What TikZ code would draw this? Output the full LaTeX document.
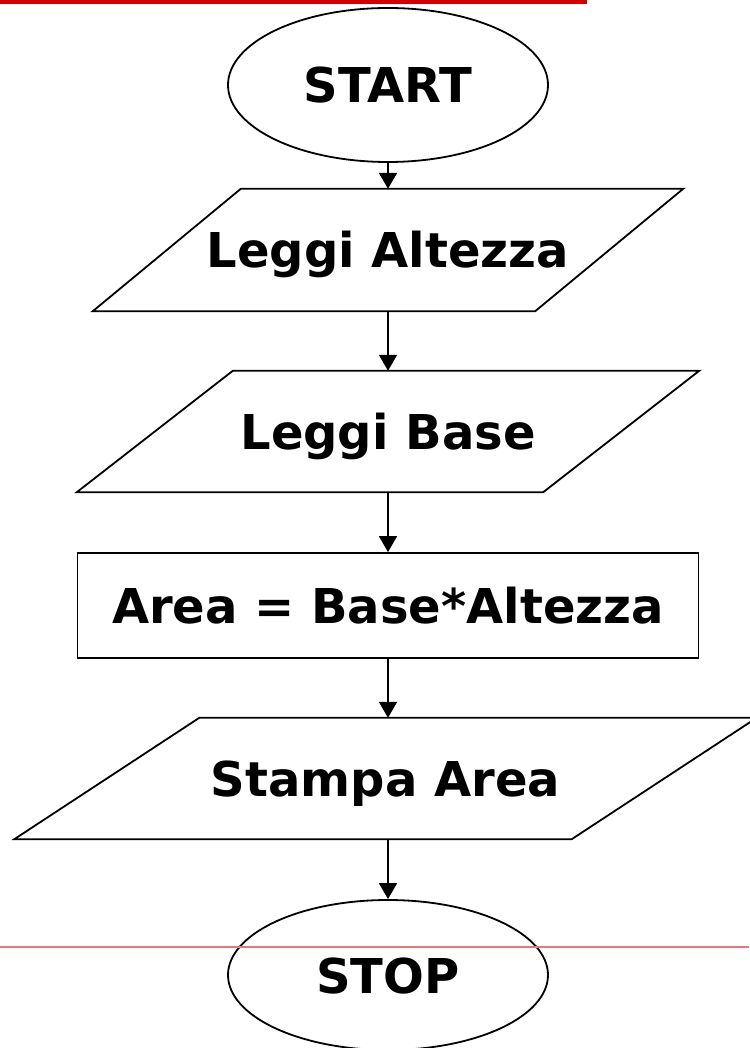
\documentclass[tikz,border=0pt]{standalone}
\usepackage{fontspec}
\setmainfont{DejaVu Sans}
\usetikzlibrary{shapes.geometric,arrows.meta}
\definecolor{slidered}{HTML}{D40000}
\definecolor{slidepink}{HTML}{E07A7A}
\tikzset{
  label font/.style={font=\fontsize{48}{58}\selectfont\bfseries, text height=36pt, text depth=0pt},
  term/.style={ellipse, draw, line width=1.8pt, inner sep=0pt, minimum width=320pt, label font},
  io/.style={inner sep=0pt, minimum height=121pt, label font},
  proc/.style={draw, line width=1.8pt, inner sep=0pt, label font},
  flow/.style={line width=1.8pt, -{Triangle[length=16pt,width=18pt]}}
}
% parallelogram round node #1, top edge pushed right by #2
\newcommand{\ioslant}[2]{%
  \draw[line width=1.8pt, line join=miter] ([xshift=#2]#1.north west) -- ([xshift=#2]#1.north east)
    -- ([xshift=-#2]#1.south east) -- ([xshift=-#2]#1.south west) -- cycle;}
\begin{document}
\begin{tikzpicture}[x=1pt,y=-1pt]
\useasboundingbox (0,0) rectangle (749,1048);
\fill[slidered] (0,0) rectangle (587,4);
% the blocks
\node[term, minimum height=154pt] (start) at (388,85) {START};
\node[io, minimum width=442pt, minimum height=122pt] (leggiA) at (388,250) {Leggi Altezza};
\ioslant{leggiA}{74pt}
\node[io, minimum width=466pt] (leggiB) at (388,431.5) {Leggi Base};
\ioslant{leggiB}{78pt}
\node[proc, minimum width=621pt, minimum height=105pt] (area) at (388,605.5) {Area = Base*Altezza};
\node[io, minimum width=557pt] (stampa) at (385.5,778.5) {Stampa Area};
\ioslant{stampa}{92.5pt}
\node[term, minimum height=150pt] (stop) at (388,975) {STOP};
% arrows
\draw[flow] (start.south) -- (start.south |- leggiA.north);
\draw[flow] (leggiA.south) -- (leggiA.south |- leggiB.north);
\draw[flow] (leggiB.south) -- (leggiB.south |- area.north);
\draw[flow] (area.south) -- (area.south |- stampa.north);
\draw[flow] (stop.north |- stampa.south) -- (stop.north);
\draw[slidepink, line width=2pt] (0,947) -- (749,947);
\end{tikzpicture}
\end{document}
